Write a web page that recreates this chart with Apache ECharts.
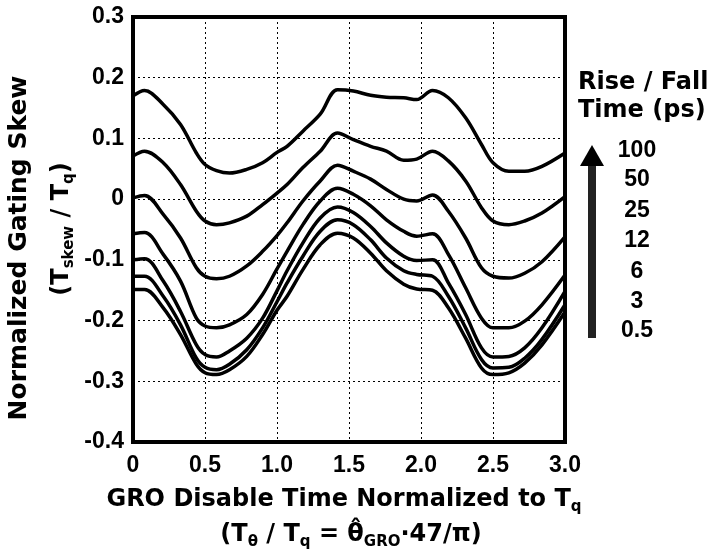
<!DOCTYPE html>
<html>
<head>
<meta charset="utf-8">
<script src="https://cdn.jsdelivr.net/npm/echarts@6/dist/echarts.min.js"></script>
<style>
  html, body { margin: 0; padding: 0; background: #fff; }
  #chart { width: 708px; height: 555px; }
</style>
</head>
<body>
<div id="chart"></div>
<script>
// GRO disable time (normalized to Tq)
var xs = [0, 0.08, 0.21, 0.33, 0.44, 0.5, 0.58, 0.67, 0.79, 0.9, 1.0, 1.07, 1.18, 1.3, 1.42, 1.53, 1.65, 1.76, 1.88, 1.97, 2.08, 2.19, 2.31, 2.42, 2.5, 2.61, 2.72, 2.84, 3.0];

// normalized gating skew, one array per rise/fall time
var skew100 = [0.17, 0.179, 0.156, 0.123, 0.076, 0.057, 0.047, 0.043, 0.049, 0.06, 0.077, 0.087, 0.112, 0.14, 0.18, 0.178, 0.171, 0.168, 0.167, 0.164, 0.179, 0.167, 0.134, 0.09, 0.06, 0.046, 0.046, 0.054, 0.076];
var skew50 = [0.071, 0.079, 0.06, 0.024, -0.02, -0.036, -0.042, -0.039, -0.028, -0.009, 0.01, 0.024, 0.052, 0.079, 0.109, 0.098, 0.087, 0.079, 0.064, 0.066, 0.079, 0.063, 0.03, -0.014, -0.036, -0.042, -0.036, -0.023, 0.004];
var skew25 = [0.002, 0.006, -0.025, -0.064, -0.113, -0.127, -0.131, -0.127, -0.11, -0.086, -0.06, -0.039, -0.003, 0.03, 0.056, 0.046, 0.033, 0.016, 0.0, -0.003, 0.007, -0.02, -0.064, -0.113, -0.127, -0.13, -0.122, -0.103, -0.062];
var skew12 = [-0.057, -0.055, -0.091, -0.135, -0.196, -0.209, -0.212, -0.207, -0.19, -0.157, -0.115, -0.086, -0.042, -0.003, 0.018, 0.008, -0.011, -0.034, -0.053, -0.061, -0.057, -0.091, -0.146, -0.196, -0.212, -0.212, -0.201, -0.174, -0.125];
var skew6 = [-0.1, -0.098, -0.135, -0.185, -0.24, -0.256, -0.26, -0.25, -0.229, -0.196, -0.151, -0.118, -0.072, -0.031, -0.013, -0.022, -0.045, -0.072, -0.094, -0.101, -0.1, -0.138, -0.19, -0.245, -0.26, -0.259, -0.245, -0.212, -0.152];
var skew3 = [-0.127, -0.127, -0.16, -0.207, -0.262, -0.277, -0.281, -0.272, -0.248, -0.212, -0.169, -0.138, -0.094, -0.053, -0.034, -0.042, -0.067, -0.097, -0.118, -0.124, -0.127, -0.16, -0.212, -0.264, -0.278, -0.277, -0.262, -0.231, -0.174];
var skew05 = [-0.149, -0.149, -0.179, -0.223, -0.272, -0.286, -0.289, -0.281, -0.259, -0.223, -0.183, -0.16, -0.116, -0.075, -0.056, -0.064, -0.089, -0.118, -0.14, -0.148, -0.15, -0.179, -0.229, -0.278, -0.289, -0.286, -0.27, -0.24, -0.186];

var riseLabels = ['100', '50', '25', '12', '6', '3', '0.5'];
var allSkews = [skew100, skew50, skew25, skew12, skew6, skew3, skew05];

var tickFont = 'Liberation Sans, Arial, sans-serif';
var titleFont = 'DejaVu Sans, sans-serif';

var myChart = echarts.init(document.getElementById('chart'), null, {renderer: 'canvas'});

var series = [];
for (var i = 0; i < allSkews.length; i++) {
    series.push({
        name: riseLabels[i],
        type: 'line',
        smooth: 0.35,
        showSymbol: false,
        lineStyle: {color: '#000', width: 3.5},
        data: xs.map(function (x, k) { return [x, allSkews[i][k]]; })
    });
}

// subscript style for rich texts
var rich = {
    n: {fontSize: 24, fontWeight: 'bold', fontFamily: titleFont, fill: '#000', lineHeight: 30},
    s: {fontSize: 15, fontWeight: 'bold', fontFamily: titleFont, fill: '#000', verticalAlign: 'bottom', lineHeight: 30}
};

var graphics = [
    // y axis title, line 1
    {type: 'text', x: 19, y: 248, rotation: Math.PI / 2,
        style: {text: 'Normalized Gating Skew', font: 'bold 25px ' + titleFont, fill: '#000', align: 'center', verticalAlign: 'middle'}},
    // y axis title, line 2
    {type: 'text', x: 62, y: 229, rotation: Math.PI / 2,
        style: {text: '{n|(T}{s|skew}{n| / T}{s|q}{n|)}', rich: rich, align: 'center', verticalAlign: 'middle'}},
    // x axis title
    {type: 'text', x: 344, y: 500,
        style: {text: '{n|GRO Disable Time Normalized to T}{s|q}', rich: rich, align: 'center', verticalAlign: 'middle'}},
    {type: 'text', x: 351, y: 535,
        style: {text: '{n|(T}{s|θ}{n| / T}{s|q}{n| = θ̂}{s|GRO}{n|·47/π)}', rich: rich, align: 'center', verticalAlign: 'middle'}},
    // legend heading
    {type: 'text', x: 578, y: 83,
        style: {text: 'Rise / Fall', font: 'bold 24px ' + titleFont, fill: '#000', align: 'left', verticalAlign: 'middle'}},
    {type: 'text', x: 578, y: 111,
        style: {text: 'Time (ps)', font: 'bold 24px ' + titleFont, fill: '#000', align: 'left', verticalAlign: 'middle'}},
    // arrow
    {type: 'rect', shape: {x: 588, y: 162, width: 8, height: 176}, style: {fill: '#222'}},
    {type: 'polygon', shape: {points: [[580, 166], [604, 166], [592, 145]]}, style: {fill: '#000'}}
];
var legendY = [151, 180, 211, 241, 272, 302, 331];
riseLabels.forEach(function (t, i) {
    graphics.push({type: 'text', x: 637, y: legendY[i],
        style: {text: t, font: 'bold 23px ' + tickFont, fill: '#000', align: 'center', verticalAlign: 'middle'}});
});

var option = {
    animation: false,
    backgroundColor: '#fff',
    grid: {
        left: 133, right: 143, top: 17, bottom: 113,
        show: true, borderColor: '#000', borderWidth: 4, backgroundColor: 'transparent'
    },
    xAxis: {
        type: 'value', min: 0, max: 3, interval: 0.5,
        axisLine: {show: false},
        axisTick: {show: false},
        splitLine: {show: true, lineStyle: {color: '#000', type: [2, 3], width: 1}},
        axisLabel: {
            margin: 12, color: '#000', fontSize: 23, fontWeight: 'bold', fontFamily: tickFont,
            formatter: function (v) { return v === 0 ? '0' : v.toFixed(1); }
        }
    },
    yAxis: {
        type: 'value', min: -0.4, max: 0.3, interval: 0.1,
        axisLine: {show: false},
        axisTick: {show: false},
        splitLine: {show: true, lineStyle: {color: '#000', type: [2, 3], width: 1}},
        axisLabel: {
            margin: 9, color: '#000', fontSize: 23, fontWeight: 'bold', fontFamily: tickFont,
            formatter: function (v) { return Math.abs(v) < 1e-9 ? '0' : v.toFixed(1); }
        }
    },
    graphic: graphics,
    series: series
};
myChart.setOption(option);
</script>
</body>
</html>
